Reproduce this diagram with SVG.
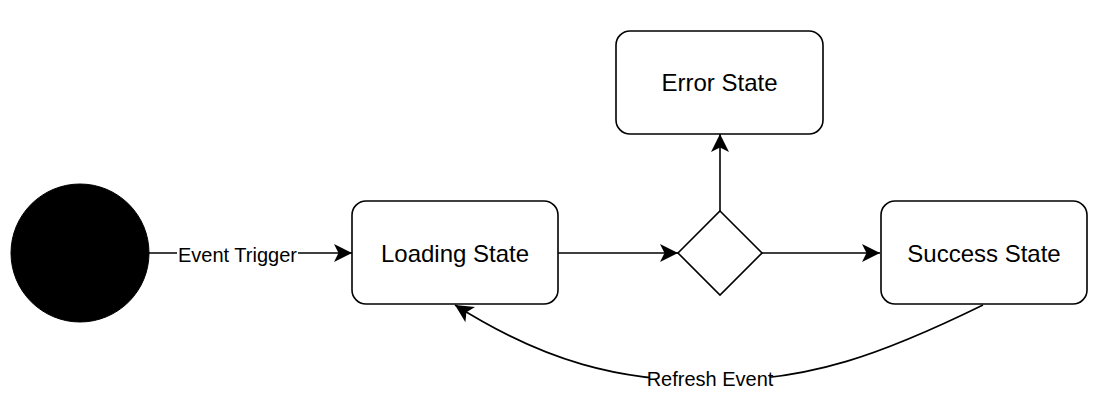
<svg xmlns="http://www.w3.org/2000/svg" width="1100" height="406" viewBox="0 0 1100 406">
  <style>
    .node { fill: #ffffff; stroke: #000000; stroke-width: 1.6; }
    .label { font-family: "Liberation Sans", Arial, Helvetica, sans-serif; font-size: 24px; fill: #000000; text-anchor: middle; }
    .elabel { font-family: "Liberation Sans", Arial, Helvetica, sans-serif; font-size: 20px; fill: #000000; text-anchor: middle; }
    .edge { fill: none; stroke: #000000; stroke-width: 1.6; marker-end: url(#arrow); }
    .lbg { fill: #ffffff; stroke: none; }
  </style>
  <defs>
    <marker id="arrow" markerUnits="userSpaceOnUse" markerWidth="20" markerHeight="20" refX="18" refY="9" orient="auto">
      <path d="M0,0 L18,9 L0,18 L4.5,9 Z" fill="#000000"/>
    </marker>
  </defs>
  <rect width="1100" height="406" fill="#ffffff"/>

  <g id="connectors">
    <path class="edge" d="M149,253 L352,253"/>
    <path class="edge" d="M558,253 L678,253"/>
    <path class="edge" d="M720,211 L720,134"/>
    <path class="edge" d="M762,253 L880,253"/>
    <path class="edge" d="M983,305 C883,354 810,381 710,381 C620,381 545,362 455,305"/>
    <g id="label-event-trigger">
      <rect class="lbg" x="177" y="243" width="121" height="24"/>
      <text class="elabel" x="237.5" y="262">Event Trigger</text>
    </g>
    <g id="label-refresh-event">
      <rect class="lbg" x="650" y="368" width="120" height="24"/>
      <text class="elabel" x="710" y="386">Refresh Event</text>
    </g>
  </g>

  <g id="start">
    <circle cx="80" cy="253" r="69" fill="#000000" stroke="#000000" stroke-width="1"/>
  </g>
  <g id="loading-state">
    <rect class="node" x="352" y="201" width="206" height="103" rx="14" ry="14"/>
    <text class="label" x="455" y="261.6">Loading State</text>
  </g>
  <g id="decision">
    <path class="node" d="M720,211 L762,253 L720,295 L678,253 Z"/>
  </g>
  <g id="error-state">
    <rect class="node" x="616" y="31" width="207" height="103" rx="14" ry="14"/>
    <text class="label" x="719.5" y="91">Error State</text>
  </g>
  <g id="success-state">
    <rect class="node" x="881" y="201" width="206" height="103" rx="14" ry="14"/>
    <text class="label" x="984" y="261.6">Success State</text>
  </g>
</svg>
